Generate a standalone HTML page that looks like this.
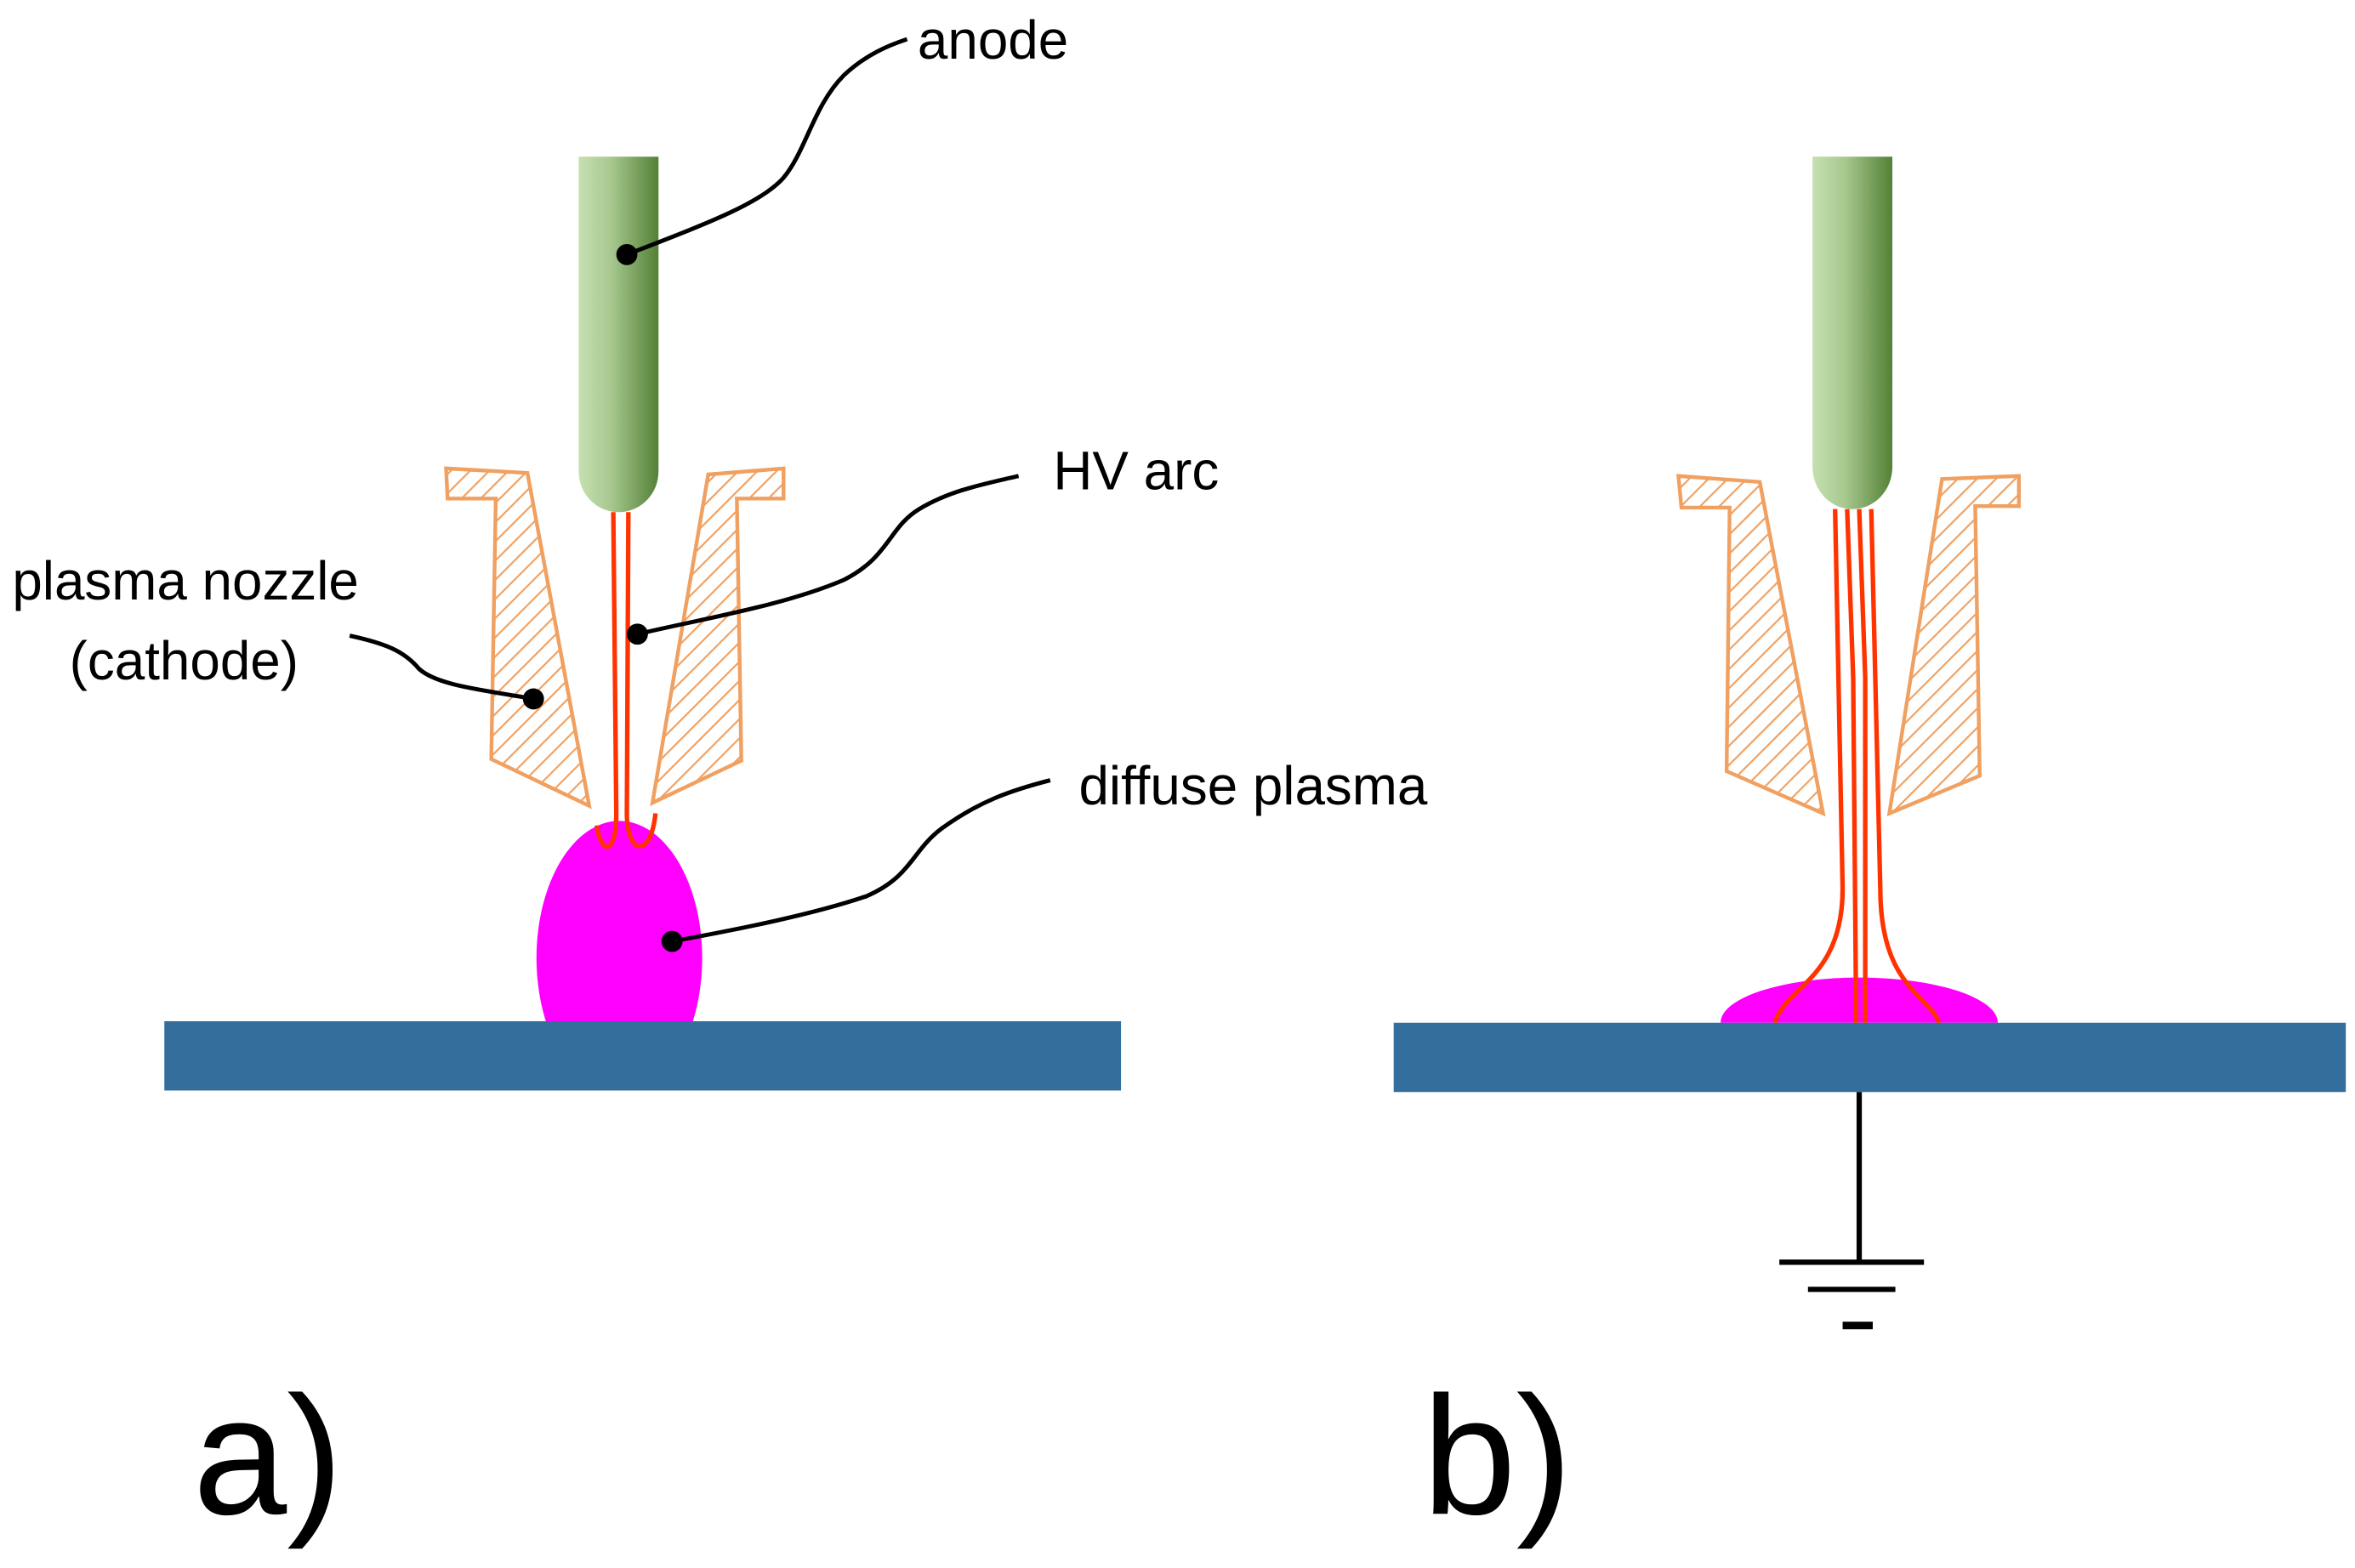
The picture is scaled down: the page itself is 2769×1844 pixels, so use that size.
<!DOCTYPE html>
<html><head><style>html,body{margin:0;padding:0;background:#fff}svg{display:block}</style></head><body>
<svg width="2769" height="1844" viewBox="0 0 1563 1041" xmlns="http://www.w3.org/2000/svg">
<defs>
<linearGradient id="g" x1="0" x2="1" y1="0" y2="0"><stop offset="0" stop-color="#c5e0b0"/><stop offset="0.4" stop-color="#a8c890"/><stop offset="1" stop-color="#538135"/></linearGradient>
<pattern id="h" width="9" height="9" patternUnits="userSpaceOnUse" patternTransform="rotate(45)"><line x1="0" y1="0" x2="0" y2="9" stroke="#f0a060" stroke-width="2.4"/></pattern>
<clipPath id="ca"><rect x="0" y="0" width="1563" height="678"/></clipPath>
</defs>
<rect width="1563" height="1041" fill="#fff"/>
<g font-family="Liberation Sans, sans-serif" font-size="36" fill="#000">
<text x="609" y="39">anode</text><text x="699" y="325">HV arc</text>
<text x="8" y="398">plasma nozzle</text><text x="46" y="451">(cathode)</text>
<text x="716" y="534">diffuse plasma</text>
<text x="128" y="1005" font-size="112">a)</text><text x="944" y="1005" font-size="112">b)</text>
</g>
<!-- a -->
<ellipse cx="411" cy="636" rx="55" ry="91" fill="#ff00ff" clip-path="url(#ca)"/>
<rect x="109" y="678" width="635" height="46" fill="#336e9c"/>
<path d="M384,104H437V313A26.5,27 0 0 1 384,313Z" fill="url(#g)"/>
<path d="M296,311L350,314L391,535L326,504L329,331L297,331Z" fill="url(#h)" stroke="#f0a060" stroke-width="2.5"/>
<path d="M520,311L470,315L433,533L492,505L489,331L520,331Z" fill="url(#h)" stroke="#f0a060" stroke-width="2.5"/>
<path d="M407,340L409,540C409,568 399,568 396,548" fill="none" stroke="#ff3300" stroke-width="3"/>
<path d="M417,340L416,540C416,568 432,570 435,540" fill="none" stroke="#ff3300" stroke-width="3"/>
<!-- b -->
<path d="M1142,679A92,30 0 0 1 1326,679Z" fill="#ff00ff"/>
<rect x="925" y="679" width="632" height="46" fill="#336e9c"/>
<path d="M1203,104H1256V310A26.5,28 0 0 1 1203,310Z" fill="url(#g)"/>
<path d="M1114,316L1168,320L1210,540L1146,512L1148,337L1116,337Z" fill="url(#h)" stroke="#f0a060" stroke-width="2.5"/>
<path d="M1340,316L1289,318L1254,540L1314,515L1311,336L1340,336Z" fill="url(#h)" stroke="#f0a060" stroke-width="2.5"/>
<g fill="none" stroke="#ff3300" stroke-width="3">
<path d="M1218,338L1223,590C1223,650 1185,655 1178,679"/>
<path d="M1226,338L1230,450L1232,679"/>
<path d="M1234,338L1238,450L1238,679"/>
<path d="M1242,338L1248,590C1248,655 1280,660 1287,679"/>
</g>
<g stroke="#000" stroke-width="3.5"><line x1="1234" y1="725" x2="1234" y2="838"/><line x1="1181" y1="838" x2="1277" y2="838"/><line x1="1200" y1="856" x2="1258" y2="856"/><line x1="1223" y1="880" x2="1243" y2="880" stroke-width="5"/></g>
<!-- leaders -->
<g fill="none" stroke="#000" stroke-width="2.8">
<path d="M416,169C470,148 505,135 520,118C535,100 540,70 560,50C575,36 590,30 602,26"/>
<path d="M423,421C470,410 520,402 560,385C590,370 590,350 610,338C630,326 650,322 676,316"/>
<path d="M354,464C320,458 290,455 278,444C268,432 255,427 232,422"/>
<path d="M446,625C490,617 540,607 575,595C605,582 605,565 625,550C650,532 670,525 697,518"/>
</g>
<g fill="#000"><circle cx="416" cy="169" r="7"/><circle cx="423" cy="421" r="7"/><circle cx="354" cy="464" r="7"/><circle cx="446" cy="625" r="7"/></g>
</svg>
</body></html>
